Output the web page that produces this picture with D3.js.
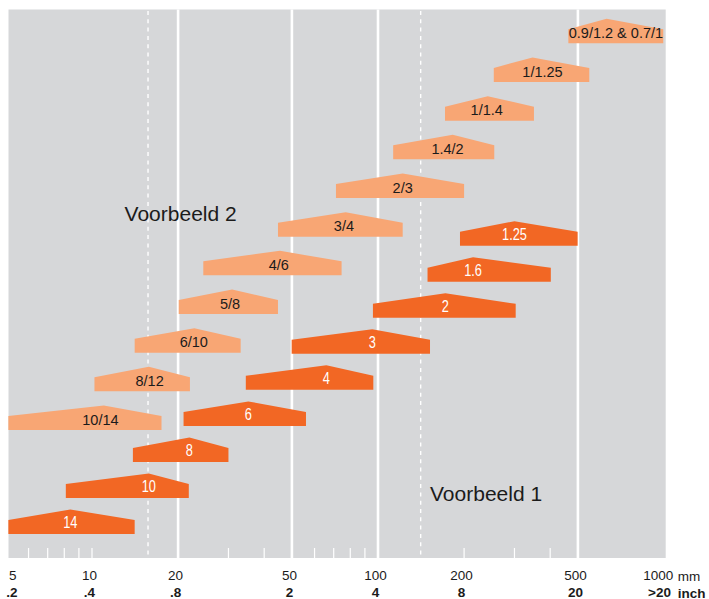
<!DOCTYPE html>
<html>
<head>
<meta charset="utf-8">
<script src="https://cdn.jsdelivr.net/npm/d3@7"></script>
<style>
  html, body { margin: 0; padding: 0; background: #ffffff; }
  svg { display: block; }
  text { font-family: "Liberation Sans", Arial, Helvetica, sans-serif; }
</style>
</head>
<body>
<svg id="chart" width="709" height="599"></svg>
<script>
// ---- data (mm) ----
const darkLabels = ["14", "10", "8", "6", "4", "3", "2", "1.6", "1.25"];
const darkMin    = [5.1, 8.1, 13.9, 20.9, 34.5, 49.9, 96, 149, 193.5];
const darkPeak   = [8.4, 15.8, 21.9, 35.2, 66, 95.5, 172, 215, 300];
const darkMax    = [14.1, 21.8, 30, 56, 96.3, 152, 303, 402, 499];

const lightLabels  = ["10/14", "8/12", "6/10", "5/8", "4/6", "3/4", "2/3", "1.4/2", "1/1.4", "1/1.25", "0.9/1.2 & 0.7/1"];
const lightMin     = [5.1, 10.2, 14.1, 20.1, 24.5, 44.7, 71.3, 113, 171.5, 254, 463];
const lightPeak    = [11.0, 15.8, 22.8, 30.9, 45.4, 77.1, 122, 182.5, 242, 347, 630];
const lightMax     = [17.5, 22, 33.1, 44.7, 74.6, 122, 200, 255, 351, 548, 994];
const lightLabelAt = [10.7, 15.9, 22.7, 30.4, 45, 76, 122, 175, 240, 376, 679];

const mmTicks     = [5, 10, 20, 50, 100, 200, 500, 1000];
const inchLabels  = [".2", ".4", ".8", "2", "4", "8", "20", ">20"];
const minorTicks  = [6, 7, 8, 9, 10, 30, 40, 60, 70, 80, 90, 200, 300, 400];
const solidGrid   = [20, 50, 100, 500];
const dashedGrid  = [15.7, 141];
const examples    = [{text: "Voorbeeld 2", at: 13.0}, {text: "Voorbeeld 1", at: 152}];

// ---- layout ----
const plot = {left: 8.5, right: 665.7, top: 9.5, bottom: 558};
const colors = {bg: "#d6d7d9", dark: "#f26724", light: "#f8a674", grid: "#ffffff", text: "#1b1b1b"};
const edgeH = 14, peakH = 24.5;

const svg = d3.select("#chart");
const x = d3.scaleLog().domain([5, 1000]).range([5.9, 664]);
const yDark = d3.scalePoint().domain(darkLabels).range([534, 245.7]);
const yLight = d3.scalePoint().domain(lightLabels).range([430, 43.3]);

svg.append("rect")
  .attr("x", plot.left).attr("y", plot.top)
  .attr("width", plot.right - plot.left).attr("height", plot.bottom - plot.top)
  .attr("fill", colors.bg);

// grid
svg.append("g").selectAll("line").data(solidGrid).join("line")
  .attr("x1", d => x(d)).attr("x2", d => x(d))
  .attr("y1", plot.top).attr("y2", plot.bottom)
  .attr("stroke", colors.grid).attr("stroke-width", 2.6);

svg.append("g").selectAll("line").data(dashedGrid).join("line")
  .attr("x1", d => x(d)).attr("x2", d => x(d))
  .attr("y1", plot.top + 1.5).attr("y2", plot.bottom)
  .attr("stroke", colors.grid).attr("stroke-width", 1.4)
  .attr("stroke-dasharray", "4,4.3");

svg.append("g").selectAll("line").data(minorTicks).join("line")
  .attr("x1", d => x(d)).attr("x2", d => x(d))
  .attr("y1", plot.bottom - 10).attr("y2", plot.bottom)
  .attr("stroke", colors.grid).attr("stroke-width", 1.2);

// shapes
function shapePath(min, peak, max, base) {
  return "M" + x(min) + "," + base +
    "L" + x(min) + "," + (base - edgeH) +
    "L" + x(peak) + "," + (base - peakH) +
    "L" + x(max) + "," + (base - edgeH) +
    "L" + x(max) + "," + base + "Z";
}

const lightData = lightLabels.map((l, i) => ({label: l, min: lightMin[i], peak: lightPeak[i], max: lightMax[i], at: lightLabelAt[i]}));
const darkData = darkLabels.map((l, i) => ({label: l, min: darkMin[i], peak: darkPeak[i], max: darkMax[i], at: darkPeak[i]}));

const gl = svg.append("g");
gl.selectAll("path").data(lightData).join("path")
  .attr("d", d => shapePath(d.min, d.peak, d.max, yLight(d.label)))
  .attr("fill", colors.light);
gl.selectAll("text").data(lightData).join("text")
  .attr("x", d => x(d.at)).attr("y", d => yLight(d.label) - 5.3)
  .attr("text-anchor", "middle")
  .attr("font-size", 14.5)
  .attr("fill", colors.text)
  .text(d => d.label);

const gd = svg.append("g");
gd.selectAll("path").data(darkData).join("path")
  .attr("d", d => shapePath(d.min, d.peak, d.max, yDark(d.label)))
  .attr("fill", colors.dark);
gd.selectAll("text").data(darkData).join("text")
  .attr("transform", d => "translate(" + x(d.at) + "," + (yDark(d.label) - 5.7) + ") scale(0.8,1)")
  .attr("text-anchor", "middle")
  .attr("font-size", 16)
  .attr("fill", "#ffffff")
  .text(d => d.label);

// example labels
svg.append("g").selectAll("text").data(examples).join("text")
  .attr("x", d => x(d.at)).attr("y", (d, i) => i === 0 ? 220.7 : 500.7)
  .attr("font-size", 21).attr("fill", colors.text).text(d => d.text);

// axes
const mmAxis = d3.axisBottom(x).tickValues(mmTicks).tickSize(0).tickPadding(0)
  .tickFormat(d => String(d));
const gmm = svg.append("g").attr("transform", "translate(0,570)").call(mmAxis);
gmm.select(".domain").remove();
gmm.selectAll("text").attr("font-size", 13.5).attr("fill", colors.text)
  .style("font-family", '"Liberation Sans", Arial, sans-serif')
  .attr("dy", "0.71em").attr("y", 0)
  .attr("dx", (d, i) => i === 0 ? 6.4 : (i === mmTicks.length - 1 ? -6.2 : -3));

const inchAxis = d3.axisBottom(x).tickValues(mmTicks).tickSize(0).tickPadding(0)
  .tickFormat((d, i) => inchLabels[i]);
const gin = svg.append("g").attr("transform", "translate(0,587)").call(inchAxis);
gin.select(".domain").remove();
gin.selectAll("text").attr("font-size", 13.5).attr("font-weight", "bold").attr("fill", colors.text)
  .style("font-family", '"Liberation Sans", Arial, sans-serif')
  .attr("dy", "0.71em").attr("y", 0)
  .attr("dx", (d, i) => i === 0 ? 5.5 : (i === mmTicks.length - 1 ? -5 : -3));

svg.append("text").attr("x", 677.7).attr("y", 580.7).attr("font-size", 13.5)
  .attr("fill", colors.text).text("mm");
svg.append("text").attr("x", 677.7).attr("y", 597.5).attr("font-size", 13.5)
  .attr("font-weight", "bold").attr("fill", colors.text).text("inch");
</script>
</body>
</html>
